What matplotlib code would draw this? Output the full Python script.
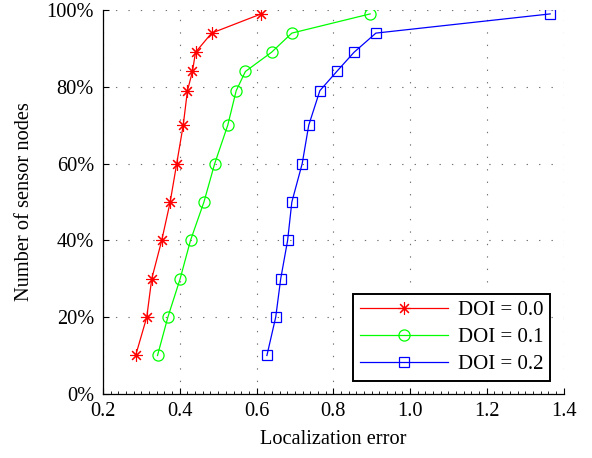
import matplotlib
matplotlib.use("Agg")
import matplotlib.pyplot as plt
from matplotlib.ticker import MultipleLocator, FuncFormatter

plt.rcParams['font.family'] = ['Liberation Serif', 'DejaVu Serif']

nodes = [10, 20, 30, 40, 50, 60, 70, 79, 84, 89, 94, 99]
err_doi00 = [0.285, 0.314, 0.327, 0.353, 0.375, 0.392, 0.409, 0.420, 0.433, 0.441, 0.483, 0.612]
err_doi01 = [0.342, 0.369, 0.401, 0.428, 0.463, 0.491, 0.525, 0.547, 0.571, 0.639, 0.692, 0.896]
err_doi02 = [0.627, 0.650, 0.663, 0.681, 0.692, 0.719, 0.736, 0.765, 0.809, 0.854, 0.911, 1.365]

fig = plt.figure(figsize=(5.92, 4.58), dpi=100)
ax = fig.add_axes([0.174, 0.140, 0.778, 0.838])

# asterisk marker like MATLAB's '*'
ax.plot(err_doi00, nodes, color=(1, 0, 0), lw=0.9, marker=(8, 2, 0), ms=9,
        mec=(1, 0, 0), mew=0.8, label='DOI = 0.0')
ax.plot(err_doi01, nodes, color=(0, 1, 0), lw=0.9, marker='o', ms=8,
        mfc='none', mec=(0, 1, 0), mew=0.9, label='DOI = 0.1')
ax.plot(err_doi02, nodes, color=(0, 0, 1), lw=0.9, marker='s', ms=6.5,
        mfc='none', mec=(0, 0, 1), mew=0.9, label='DOI = 0.2')

ax.set_xlim(0.2, 1.4)
ax.set_ylim(0, 100)
ax.xaxis.set_major_locator(MultipleLocator(0.2))
ax.xaxis.set_minor_locator(MultipleLocator(0.02))
ax.yaxis.set_major_locator(MultipleLocator(20))
ax.xaxis.set_major_formatter(FuncFormatter(lambda v, p: '%.1f' % v))
ax.yaxis.set_major_formatter(FuncFormatter(lambda v, p: '%d%%' % v))

ax.grid(True, which='major', color='#707070', lw=0.8, linestyle=(0, (1.2, 10)))
ax.spines['top'].set_visible(False)
ax.spines['right'].set_visible(False)
ax.spines['left'].set_linewidth(0.9)
ax.spines['bottom'].set_linewidth(0.9)
ax.tick_params(which='major', direction='in', length=4, width=0.8, labelsize=14.7)
ax.tick_params(axis='x', which='major', pad=6)
ax.tick_params(axis='y', which='major', pad=6.5)
ax.tick_params(axis='x', which='minor', direction='in', length=2, width=0.6)

ax.set_xlabel('Localization error', fontsize=14.7, labelpad=6)
ax.set_ylabel('Number of sensor nodes', fontsize=14.7, labelpad=9)

leg = ax.legend(loc='lower right', bbox_to_anchor=(0.971, 0.034), borderaxespad=0,
                fontsize=15, handlelength=4.2, handletextpad=0.5, fancybox=False,
                framealpha=1, edgecolor='black', labelspacing=0.35, borderpad=0.32)
leg.get_frame().set_linewidth(1.4)

fig.savefig('out.png', dpi=100)
